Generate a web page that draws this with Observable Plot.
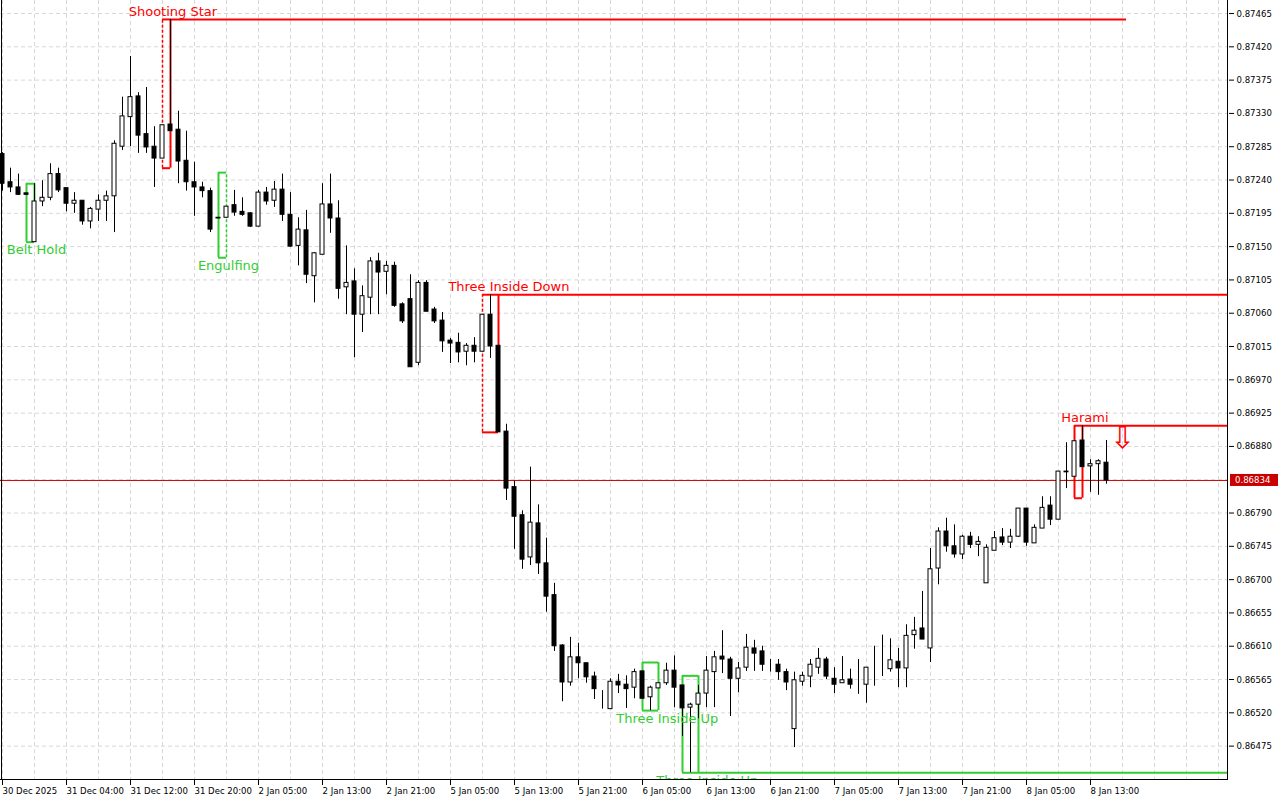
<!DOCTYPE html>
<html><head><meta charset="utf-8">
<script src="https://cdn.jsdelivr.net/npm/d3@7"></script>
<script src="https://cdn.jsdelivr.net/npm/@observablehq/plot@0.6"></script>
<style>
html,body{margin:0;padding:0;background:#fff;}
#chart{width:1280px;height:800px;overflow:hidden;}
</style></head><body><div id="chart"></div>
<script>
// ---- DATA (H1 bars) ----
const opens = [
0.87275,0.87237,0.87230,0.87222,0.87156,0.87211,0.87216,0.87248,0.87229,0.87208,
0.87212,0.87184,0.87200,0.87212,0.87218,0.87285,0.87325,0.87353,0.87302,0.87285,
0.87269,0.87315,0.87308,0.87266,0.87237,0.87230,0.87225,0.87189,0.87189,0.87206,
0.87197,0.87195,0.87177,0.87223,0.87212,0.87227,0.87193,0.87151,0.87172,0.87110,
0.87139,0.87207,0.87188,0.87095,0.87103,0.87058,0.87081,0.87130,0.87116,0.87124,
0.87072,0.87079,0.86993,0.87101,0.87065,0.87050,0.87023,0.87020,0.87008,0.87016,
0.87008,0.87058,0.87016,0.86900,0.86825,0.86787,0.86730,0.86776,0.86722,0.86679,
0.86611,0.86561,0.86595,0.86587,0.86569,0.86525,0.86525,0.86562,0.86558,0.86554,
0.86576,0.86541,0.86553,0.86560,0.86577,0.86557,0.86527,0.86531,0.86546,0.86575,
0.86596,0.86592,0.86566,0.86581,0.86607,0.86603,0.86585,0.86585,0.86575,0.86498,
0.86562,0.86569,0.86581,0.86592,0.86566,0.86560,0.86565,0.86558,0.86558,0.86581,
0.86579,0.86579,0.86589,0.86580,0.86625,0.86634,0.86607,0.86715,0.86765,0.86745,
0.86734,0.86758,0.86747,0.86695,0.86739,0.86757,0.86750,0.86758,0.86796,0.86749,
0.86769,0.86800,0.86781,0.86846,0.86839,0.86888,0.86853,0.86856,0.86858];
const highs = [
0.87277,0.87256,0.87248,0.87222,0.87235,0.87239,0.87262,0.87256,0.87229,0.87223,
0.87212,0.87203,0.87220,0.87225,0.87293,0.87352,0.87407,0.87358,0.87365,0.87312,
0.87314,0.87457,0.87333,0.87306,0.87264,0.87237,0.87229,0.87189,0.87204,0.87226,
0.87216,0.87196,0.87226,0.87230,0.87238,0.87248,0.87223,0.87189,0.87199,0.87142,
0.87235,0.87248,0.87212,0.87151,0.87120,0.87097,0.87135,0.87141,0.87130,0.87129,
0.87074,0.87112,0.87104,0.87104,0.87068,0.87061,0.87026,0.87033,0.87019,0.87027,
0.87058,0.87085,0.87016,0.86910,0.86833,0.86793,0.86852,0.86801,0.86756,0.86695,
0.86612,0.86622,0.86614,0.86587,0.86575,0.86550,0.86566,0.86572,0.86570,0.86579,
0.86576,0.86556,0.86560,0.86587,0.86597,0.86557,0.86533,0.86557,0.86596,0.86603,
0.86631,0.86595,0.86588,0.86626,0.86618,0.86610,0.86592,0.86592,0.86579,0.86575,
0.86575,0.86592,0.86607,0.86595,0.86581,0.86596,0.86579,0.86592,0.86581,0.86610,
0.86625,0.86620,0.86607,0.86639,0.86649,0.86684,0.86742,0.86770,0.86783,0.86774,
0.86760,0.86764,0.86758,0.86747,0.86765,0.86769,0.86768,0.86796,0.86796,0.86774,
0.86812,0.86812,0.86846,0.86885,0.86887,0.86908,0.86862,0.86862,0.86888];
const lows = [
0.87225,0.87223,0.87219,0.87220,0.87156,0.87204,0.87212,0.87223,0.87197,0.87195,
0.87179,0.87174,0.87184,0.87184,0.87169,0.87280,0.87285,0.87276,0.87276,0.87230,
0.87269,0.87306,0.87235,0.87225,0.87191,0.87216,0.87169,0.87188,0.87189,0.87191,
0.87191,0.87176,0.87177,0.87206,0.87203,0.87184,0.87149,0.87124,0.87100,0.87074,
0.87139,0.87168,0.87079,0.87058,0.87000,0.87034,0.87058,0.87058,0.87085,0.87068,
0.87046,0.86987,0.86989,0.87062,0.87046,0.87007,0.86992,0.86993,0.86989,0.86993,
0.87008,0.86999,0.86899,0.86807,0.86741,0.86714,0.86719,0.86707,0.86656,0.86603,
0.86535,0.86556,0.86566,0.86560,0.86538,0.86525,0.86525,0.86546,0.86526,0.86539,
0.86539,0.86523,0.86553,0.86557,0.86527,0.86488,0.86439,0.86512,0.86527,0.86527,
0.86573,0.86515,0.86547,0.86576,0.86576,0.86576,0.86575,0.86564,0.86550,0.86473,
0.86556,0.86554,0.86572,0.86565,0.86546,0.86560,0.86552,0.86545,0.86533,0.86556,
0.86569,0.86575,0.86554,0.86554,0.86606,0.86619,0.86588,0.86693,0.86737,0.86729,
0.86727,0.86742,0.86731,0.86695,0.86739,0.86746,0.86742,0.86757,0.86745,0.86749,
0.86769,0.86773,0.86781,0.86823,0.86839,0.86852,0.86818,0.86814,0.86829];
const closes = [
0.87235,0.87230,0.87220,0.87220,0.87211,0.87216,0.87248,0.87226,0.87208,0.87212,
0.87184,0.87201,0.87212,0.87218,0.87289,0.87326,0.87352,0.87300,0.87284,0.87269,
0.87314,0.87306,0.87265,0.87237,0.87230,0.87225,0.87173,0.87188,0.87204,0.87196,
0.87193,0.87177,0.87223,0.87211,0.87227,0.87193,0.87150,0.87173,0.87112,0.87141,
0.87207,0.87188,0.87093,0.87101,0.87058,0.87083,0.87130,0.87115,0.87124,0.87070,
0.87049,0.86987,0.87101,0.87062,0.87049,0.87022,0.87019,0.87007,0.87016,0.87008,
0.87058,0.87015,0.86899,0.86823,0.86785,0.86727,0.86777,0.86722,0.86677,0.86610,
0.86561,0.86595,0.86587,0.86568,0.86552,0.86525,0.86562,0.86557,0.86552,0.86575,
0.86539,0.86554,0.86560,0.86577,0.86554,0.86526,0.86531,0.86546,0.86577,0.86595,
0.86592,0.86566,0.86580,0.86608,0.86600,0.86585,0.86585,0.86575,0.86561,0.86564,
0.86570,0.86585,0.86593,0.86569,0.86558,0.86564,0.86558,0.86558,0.86581,0.86581,
0.86579,0.86591,0.86580,0.86624,0.86631,0.86619,0.86714,0.86765,0.86745,0.86734,
0.86758,0.86747,0.86751,0.86743,0.86756,0.86750,0.86758,0.86796,0.86750,0.86770,
0.86797,0.86781,0.86846,0.86845,0.86887,0.86852,0.86856,0.86860,0.86834];

const xTickIndex = [0,8,16,24,32,40,48,56,64,72,80,88,96,104,112,120,128,136];
const xTickLabels = ["30 Dec 2025","31 Dec 04:00","31 Dec 12:00","31 Dec 20:00","2 Jan 05:00","2 Jan 13:00",
  "2 Jan 21:00","5 Jan 05:00","5 Jan 13:00","5 Jan 21:00","6 Jan 05:00","6 Jan 13:00","6 Jan 21:00",
  "7 Jan 05:00","7 Jan 13:00","7 Jan 21:00","8 Jan 05:00","8 Jan 13:00"];
const yTicks = [0.87465,0.87420,0.87375,0.87330,0.87285,0.87240,0.87195,0.87150,0.87105,0.87060,0.87015,
  0.86970,0.86925,0.86880,0.86790,0.86745,0.86700,0.86655,0.86610,0.86565,0.86520,0.86475];
const yGrid = [0.87465,0.87420,0.87375,0.87330,0.87285,0.87240,0.87195,0.87150,0.87105,0.87060,0.87015,
  0.86970,0.86925,0.86880,0.86835,0.86790,0.86745,0.86700,0.86655,0.86610,0.86565,0.86520,0.86475];
const currentPrice = 0.86834;

const patternNames = ["Belt Hold","Shooting Star","Engulfing","Three Inside Down","Three Inside Up","Three Inside Up","Harami"];
const patternStart = [3,20,27,60,80,85,134];
const patternEnd   = [4,21,28,62,82,87,135];
const patternHigh  = [0.87235,0.87457,0.87250,0.87085,0.86588,0.86570,0.86908];
const patternLow   = [0.87156,0.87256,0.87135,0.86899,0.86523,0.86439,0.86810];
const patternDir   = ["bull","bear","bull","bear","bull","bull","bear"];
const patternLabelAt = [4.25,21.3,28.25,63.3,83.1,88.1,135.3];
const patternLineTo  = [null,140.5,null,Infinity,null,Infinity,Infinity];
const signalIndex = 140, signalPrice = 0.86891;

// ---- SCALES / STYLE ----
const xDomain = [-0.25, 153.25];
const yDomain = [0.8642855, 0.874826];
const GREEN = "#32cd32", RED = "#ff0000";
const dashedEdge = {"Shooting Star":"start","Three Inside Down":"start","Engulfing":"end"};
const axisFont = "'DejaVu Sans Condensed','Liberation Sans Narrow','Liberation Sans',sans-serif";
const labelFont = "'DejaVu Sans',sans-serif";

const candles = opens.map((o,i)=>({i,o,h:highs[i],l:lows[i],c:closes[i],up:closes[i]>=o}));
const patterns = patternNames.map((name,k)=>({
  name, start:patternStart[k], end:patternEnd[k], top:patternHigh[k], bottom:patternLow[k],
  dir:patternDir[k], labelAt:patternLabelAt[k],
  lineTo: patternLineTo[k]===Infinity ? xDomain[1] : patternLineTo[k],
  color: patternDir[k]==="bull" ? GREEN : RED
}));
const edges = patterns.flatMap(p=>[
  {x:p.start, y1:p.bottom, y2:p.top, color:p.color, dashed: dashedEdge[p.name]==="start"},
  {x:p.end,   y1:p.bottom, y2:p.top, color:p.color, dashed: dashedEdge[p.name]==="end"}
]);
const extLines = patterns.filter(p=>p.lineTo!=null).map(p=>({x1:p.end,x2:p.lineTo,y:p.dir==="bull"?p.bottom:p.top,color:p.color}));
const bullPat = patterns.filter(p=>p.dir==="bull"), bearPat = patterns.filter(p=>p.dir==="bear");

const plot = Plot.plot({
  width:1280, height:800,
  marginLeft:0, marginRight:52, marginTop:0, marginBottom:20,
  x:{domain:xDomain, axis:null},
  y:{domain:yDomain, axis:null},
  style:{background:"#fff", fontFamily:axisFont, fontSize:"9.5px", color:"#000", overflow:"visible"},
  marks:[
    Plot.ruleY(yGrid, {stroke:"#d8d8d8", strokeDasharray:"4,3"}),
    Plot.ruleX(d3.range(0,153,4), {stroke:"#d8d8d8", strokeDasharray:"4,3"}),
    // pattern boxes
    Plot.ruleY(patterns, {y:"top", x1:"start", x2:"end", stroke:"color", strokeWidth:2, clip:true}),
    Plot.ruleY(patterns, {y:"bottom", x1:"start", x2:"end", stroke:"color", strokeWidth:2, clip:true}),
    Plot.ruleX(edges.filter(e=>!e.dashed), {x:"x", y1:"y1", y2:"y2", stroke:"color", strokeWidth:2, clip:true}),
    Plot.ruleX(edges.filter(e=>e.dashed), {x:"x", y1:"y1", y2:"y2", stroke:"color", strokeWidth:1.5, strokeDasharray:"3,2", clip:true}),
    Plot.ruleY(extLines, {y:"y", x1:"x1", x2:"x2", stroke:"color", strokeWidth:2, clip:true}),
    // current price line
    Plot.ruleY([currentPrice], {stroke:"#d00000", strokeWidth:1}),
    // candles
    Plot.ruleX(candles, {x:"i", y1:"l", y2:"h", stroke:"#000", strokeWidth:1, clip:true}),
    Plot.rect(candles, {x1:d=>d.i-0.25, x2:d=>d.i+0.25, y1:"o", y2:"c",
      fill:d=>d.up?"#fff":"#000", stroke:"#000", strokeWidth:1, clip:true}),
    // pattern labels
    Plot.text(bullPat, {x:"labelAt", y:"bottom", dy:8, text:"name", fill:"color", fontSize:13,
      fontFamily:labelFont, lineAnchor:"middle", clip:true}),
    Plot.text(bearPat, {x:"labelAt", y:"top", dy:-8, text:"name", fill:"color", fontSize:13,
      fontFamily:labelFont, lineAnchor:"middle", clip:true}),
    Plot.text([signalPrice], {x:()=>signalIndex, y:d=>d, text:()=>"\u21e9", fill:RED, fontSize:30,
      fontFamily:labelFont, lineAnchor:"middle"}),
    // axes and frame
    Plot.axisY(yTicks, {anchor:"right", tickFormat:d3.format(".5f"), tickSize:5, tickPadding:3, fontFamily:axisFont}),
    Plot.axisX(xTickIndex, {anchor:"bottom", tickFormat:d=>xTickLabels[xTickIndex.indexOf(d)], textAnchor:"start", tickSize:5, tickPadding:2, fontFamily:axisFont}),
    Plot.ruleX([-0.125], {stroke:"#000"}),
    Plot.ruleX([xDomain[1]], {stroke:"#000", dx:-1}),
    Plot.ruleY([yDomain[0]], {stroke:"#000", dy:-1})
  ]
});
document.getElementById("chart").appendChild(plot);

// current price label on the right axis
const svg = d3.select(plot);
const sy = plot.scale("y"), sx = plot.scale("x");
const py = sy.apply(currentPrice), px = sx.apply(xDomain[1]);
svg.append("rect").attr("x",px+2).attr("y",py-6).attr("width",48).attr("height",12).attr("fill","#c80000");
svg.append("text").attr("x",px+7).attr("y",py).attr("dy","0.35em").attr("fill","#fff")
  .attr("text-anchor","start").attr("font-family",axisFont).attr("font-size","9.5px")
  .text(d3.format(".5f")(currentPrice));
</script></body></html>
